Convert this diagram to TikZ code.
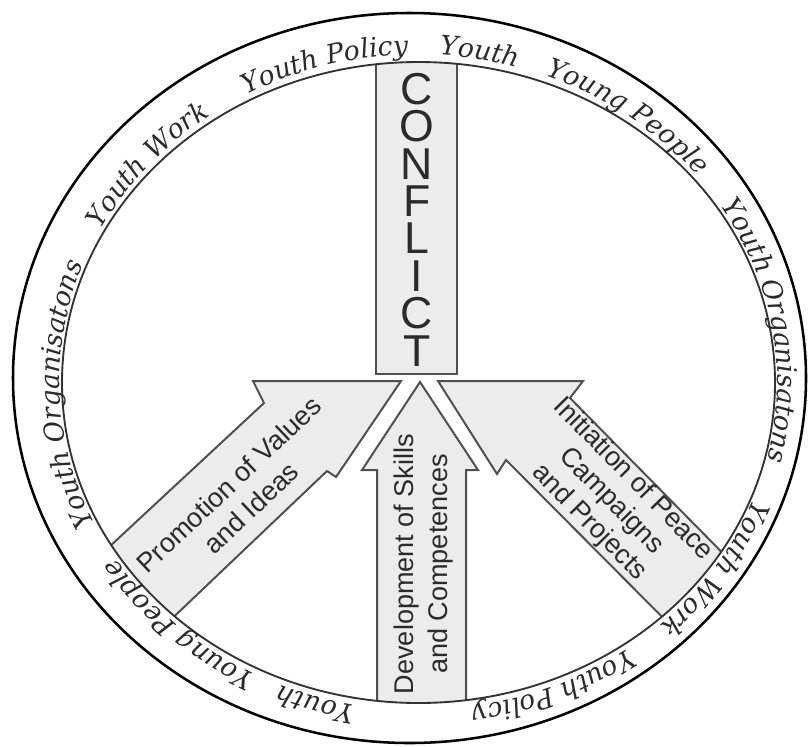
\documentclass[tikz,border=0pt]{standalone}
\usepackage{fontspec}
\setmainfont{Liberation Sans}
\newfontfamily\bandfont{DejaVu Serif}
\usetikzlibrary{decorations.text}
\definecolor{boxfill}{HTML}{ECECEC}
\definecolor{boxline}{HTML}{505050}
\definecolor{inkgray}{HTML}{2B2B2B}
\definecolor{ringline}{HTML}{333333}
\newcommand\bandstyle{\bandfont\itshape\fontsize{20}{24}\selectfont\color{inkgray}}
\newcommand\bandlabel[2]{%
  \path[decorate, decoration={text along path, text={|\bandstyle|#2}, text align=center}]
    ([shift={(#1+40:359 and 328)}]base) arc[start angle=#1+40, end angle=#1-40, x radius=359, y radius=328];}
\begin{document}
\begin{tikzpicture}[x=0.75pt, y=0.75pt,
  shapebox/.style={draw=boxline, fill=boxfill, line width=1.5pt, line join=miter},
  arrowtext/.style={text=inkgray, align=center},
  conflictletter/.style={text=inkgray, font=\fontsize{33.5}{36}\selectfont, inner sep=0pt},
  outerring/.style={draw=black, line width=1.9pt},
  innerring/.style={draw=ringline, line width=1.4pt}]
\useasboundingbox (0,0) rectangle (812,-746);
\coordinate (base) at (418.5,-382.5);
% outer ring
\draw[outerring] (409.5,-378) ellipse [x radius=396.5, y radius=365];
% shapes clipped by the inner ring
\begin{scope}
  \clip (418.5,-382.5) ellipse [x radius=356.5, y radius=320.5];
  \draw[shapebox] (376,-40) rectangle (457,-374);
  \draw[shapebox] (420,-382) -- (478,-470) -- (466,-470) -- (466,-730) -- (377,-730) -- (377,-470) -- (362,-470) -- cycle;
  \draw[shapebox] (401,-381) -- (253,-381) -- (264,-403) -- (80,-574) -- (140,-649) -- (327,-471) -- (336,-477) -- cycle;
  \draw[shapebox] (438,-381) -- (583,-381) -- (570,-398) -- (760,-591) -- (700,-655) -- (506,-460) -- (497,-474) -- cycle;
\end{scope}
% inner ring
\draw[innerring] (418.5,-382.5) ellipse [x radius=356.5, y radius=320.5];
% CONFLICT
\foreach \l [count=\i] in {C,O,N,F,L,I,C,T}
  \node[conflictletter] (cl\i) at (417,{-89-37.4*(\i-1)}) {\l};
% arrow texts
\node[arrowtext, rotate=43.4, font=\fontsize{20.3}{24}\selectfont] (promo) at (240,-496) {Promotion of Values\\and Ideas};
\node[arrowtext, rotate=90, font=\fontsize{20.3}{25.5}\selectfont] (devel) at (423,-564) {Development of Skills\\and Competences};
\node[arrowtext, rotate=-45.5, font=\fontsize{20.3}{23}\selectfont] (initi) at (611,-501) {Initiation of Peace\\Campaigns\\and Projects};
% band labels
\bandlabel{105.6}{Youth Policy}
\bandlabel{80}{Youth}
\bandlabel{53.3}{Young People}
\bandlabel{9.2}{Youth Organisatons}
\bandlabel{-33.6}{Youth Work}
\bandlabel{-67.2}{Youth Policy}
\bandlabel{-107}{Youth}
\bandlabel{-133.2}{Young People}
\bandlabel{182.1}{Youth Organisatons}
\bandlabel{139.7}{Youth Work}
\end{tikzpicture}
\end{document}
